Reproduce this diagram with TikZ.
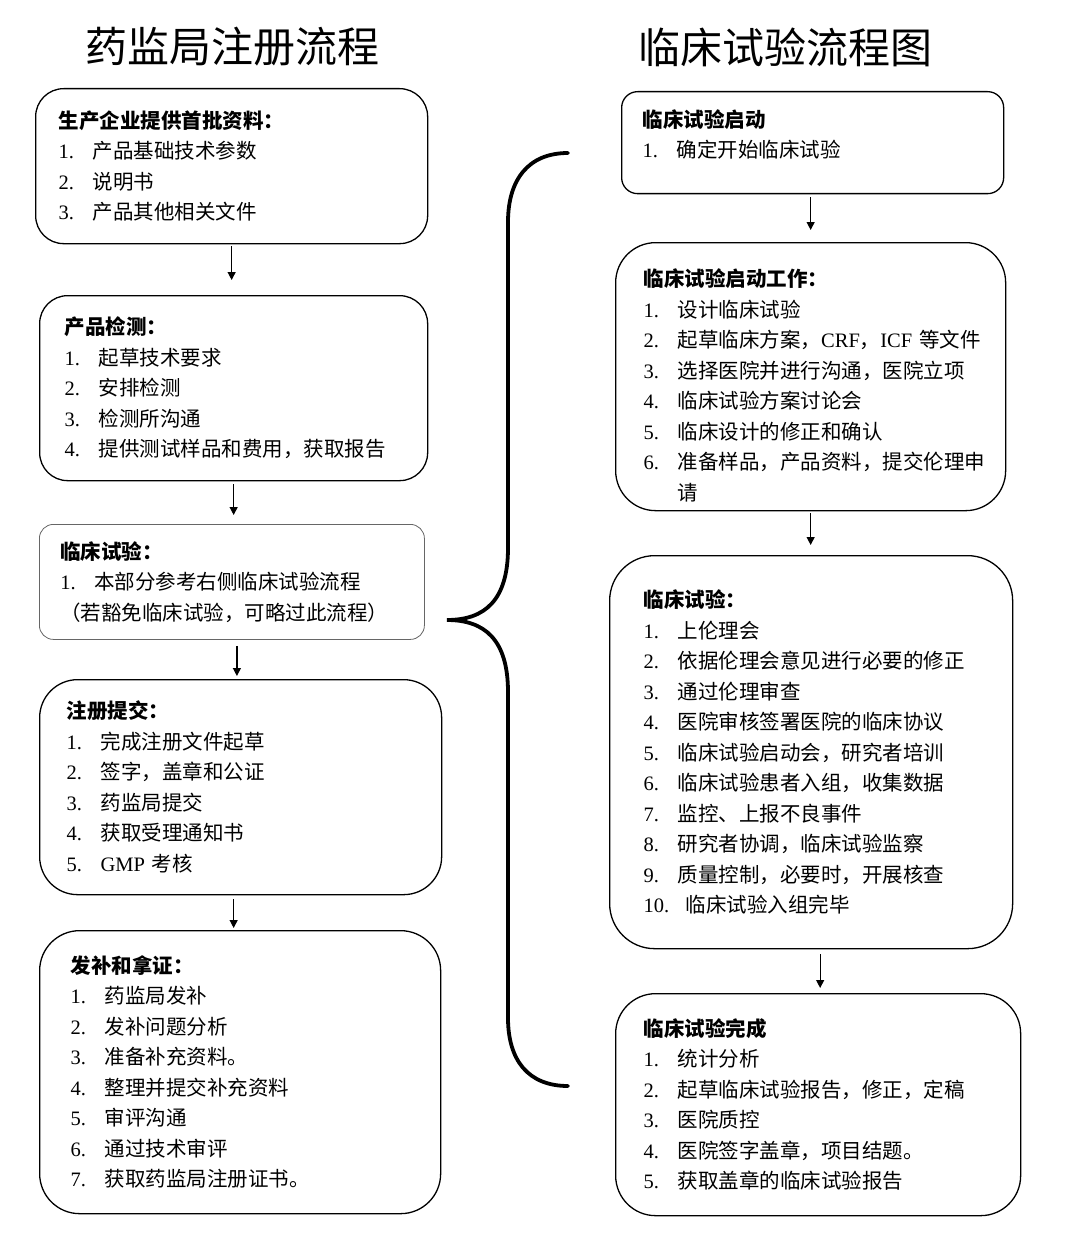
\documentclass[tikz,border=0pt]{standalone}
\usepackage{fontspec}
\setmainfont{Noto Sans CJK SC}
\newfontfamily\numfont{Liberation Serif}
\usetikzlibrary{arrows.meta,positioning}
\newcommand{\itm}[2]{\makebox[34pt][l]{\numfont #1}#2}
\tikzset{
  pbox/.style={rectangle,rounded corners=#1,draw=black,line width=1.3pt,anchor=north west,
               align=left,font=\fontsize{20.5}{30.5}\selectfont,inner ysep=0pt},
  pbox/.default=28pt,
  arr/.style={-{Triangle[length=8pt,width=8pt]},line width=1.2pt},
}

\begin{document}
\begin{tikzpicture}[x=1pt,y=-1pt,
    ttl/.style={font=\fontsize{42}{48}\selectfont,inner sep=0pt},
  ]
    \useasboundingbox (0,0) rectangle (1084,1260);
    \node[ttl] (t1) at (232,47) {药监局注册流程};
    \node[ttl] (t2) at (785,47) {临床试验流程图};
    % left column
    \node[pbox=28pt,inner xsep=23pt,text width=346pt,minimum height=155pt] (l1) at (35,88)
      {\textbf{生产企业提供首批资料：}\\\itm{1.}{产品基础技术参数}\\\itm{2.}{说明书}\\\itm{3.}{产品其他相关文件}};
    \node[pbox=28pt,inner xsep=25pt,text width=338pt,minimum height=185pt] (l2) at (39,295)
      {\textbf{产品检测：}\\\itm{1.}{起草技术要求}\\\itm{2.}{安排检测}\\\itm{3.}{检测所沟通}\\\itm{4.}{提供测试样品和费用，获取报告}};
    \node[pbox=14pt,draw=black!60,line width=0.8pt,inner xsep=21pt,text width=343pt,minimum height=115pt] (l3) at (39,524)
      {\textbf{临床试验：}\\\itm{1.}{本部分参考右侧临床试验流程}\\（若豁免临床试验，可略过此流程）};
    \node[pbox=38pt,inner xsep=27pt,text width=348pt,minimum height=215pt] (l4) at (39,679)
      {\textbf{注册提交：}\\\itm{1.}{完成注册文件起草}\\\itm{2.}{签字，盖章和公证}\\\itm{3.}{药监局提交}\\\itm{4.}{获取受理通知书}\\\itm{5.}{{\numfont GMP}~考核}};
    \node[pbox=40pt,inner xsep=31pt,text width=339pt,minimum height=283pt] (l5) at (39,930)
      {\textbf{发补和拿证：}\\\itm{1.}{药监局发补}\\\itm{2.}{发补问题分析}\\\itm{3.}{准备补充资料。}\\\itm{4.}{整理并提交补充资料}\\\itm{5.}{审评沟通}\\\itm{6.}{通过技术审评}\\\itm{7.}{获取药监局注册证书。}};
    \draw[arr,shorten <=2pt,shorten >=15pt] (l1.south) -- (l1.south |- l2.north);
    \draw[arr,shorten <=3pt,shorten >=9pt] (l2.south) -- (l2.south |- l3.north);
    \draw[arr,shorten <=6pt,shorten >=3pt] ([xshift=5pt]l3.south) -- ([xshift=5pt]l3.south |- l4.north);
    \draw[arr,shorten <=4pt,shorten >=2pt] ([xshift=-7pt]l4.south) -- ([xshift=-7pt]l4.south |- l5.north);
    % right column
    \node[pbox=16pt,inner xsep=21pt,text width=340pt,minimum height=102pt] (r1) at (621,91)
      {\textbf{临床试验启动}\\\itm{1.}{确定开始临床试验}\\[-12pt]\mbox{}};
    \node[pbox=40pt,inner xsep=28pt,text width=334pt,minimum height=268pt] (r2) at (615,242)
      {\rule{0pt}{35pt}\textbf{临床试验启动工作：}\\\itm{1.}{设计临床试验}\\\itm{2.}{起草临床方案，{\numfont CRF}，{\numfont ICF}~等文件}\\
       \itm{3.}{选择医院并进行沟通，医院立项}\\\itm{4.}{临床试验方案讨论会}\\\itm{5.}{临床设计的修正和确认}\\
       \itm{6.}{准备样品，产品资料，提交伦理申}\\\hspace*{34pt}请};
    \node[pbox=45pt,inner xsep=34pt,text width=335pt,minimum height=393pt] (r3) at (609,555)
      {\textbf{临床试验：}\\\itm{1.}{上伦理会}\\\itm{2.}{依据伦理会意见进行必要的修正}\\\itm{3.}{通过伦理审查}\\
       \itm{4.}{医院审核签署医院的临床协议}\\\itm{5.}{临床试验启动会，研究者培训}\\\itm{6.}{临床试验患者入组，收集数据}\\
       \itm{7.}{监控、上报不良事件}\\\itm{8.}{研究者协调，临床试验监察}\\\itm{9.}{质量控制，必要时，开展核查}\\
       \makebox[42pt][l]{\numfont 10.}临床试验入组完毕};
    \node[pbox=40pt,inner xsep=28pt,text width=349pt,minimum height=222pt] (r4) at (615,993)
      {\textbf{临床试验完成}\\\itm{1.}{统计分析}\\\itm{2.}{起草临床试验报告，修正，定稿}\\\itm{3.}{医院质控}\\
       \itm{4.}{医院签字盖章，项目结题。}\\\itm{5.}{获取盖章的临床试验报告}};
    \draw[arr,shorten <=3pt,shorten >=12pt] ([xshift=-2pt]r1.south) -- ([xshift=-2pt]r1.south |- r2.north);
    \draw[arr,shorten <=2pt,shorten >=10pt] (r2.south) -- (r2.south |- r3.north);
    \draw[arr,shorten <=5pt,shorten >=5pt] ([xshift=9pt]r3.south) -- ([xshift=9pt]r3.south |- r4.north);
    % brace
    \draw[line width=3.8pt,line cap=round] (568,153) .. controls (528,153) and (508,180) .. (508,222) -- (508,548)
      .. controls (508,600) and (485,620) .. (447,620) .. controls (485,620) and (508,640) .. (508,692)
      -- (508,1018) .. controls (508,1060) and (528,1086) .. (568,1086);
  \end{tikzpicture}
\end{document}
